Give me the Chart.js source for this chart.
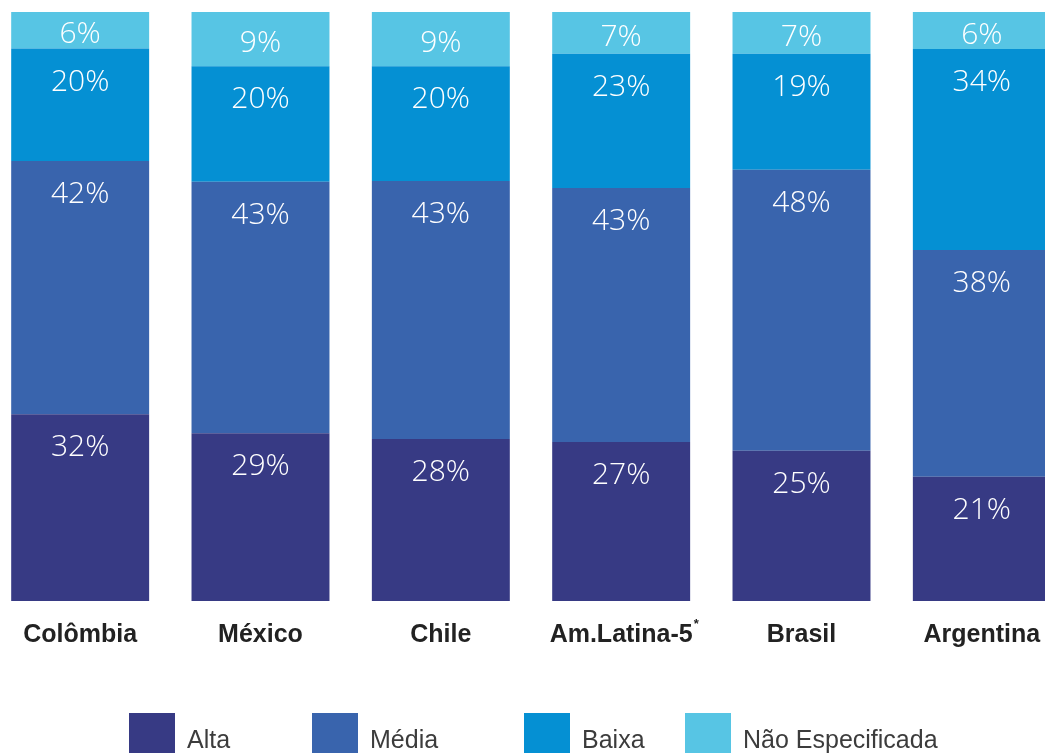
<!DOCTYPE html>
<html><head><meta charset="utf-8">
<script src="https://cdn.jsdelivr.net/npm/chart.js@4/dist/chart.umd.min.js"></script>
<style>
html,body{margin:0;padding:0;background:#fff;overflow:hidden;width:1045px;height:753px;}
#wrap{position:absolute;left:-10px;top:0;width:1082px;height:753px;}
#legend{position:absolute;left:0;top:0;width:1045px;height:753px;pointer-events:none;}
.box{position:absolute;top:713px;width:46px;height:40px;}
.txt{position:absolute;top:727px;font:25px "Liberation Sans",Arial,sans-serif;line-height:25px;color:#3c3c3c;white-space:nowrap;}
</style></head>
<body>
<div id="wrap"><canvas id="c"></canvas></div>
<div id="legend"></div>
<script>
const categories = ['Colômbia','México','Chile','Am.Latina-5','Brasil','Argentina'];
const seriesNames = ['Alta','Média','Baixa','Não Especificada'];
const alta   = [31.7, 28.5, 27.5, 27.0, 25.5, 21.1];
const media  = [43.0, 42.7, 43.8, 43.1, 47.7, 38.5];
const baixa  = [19.1, 19.6, 19.5, 22.8, 19.7, 34.1];
const naoEsp = [ 6.2,  9.2,  9.2,  7.1,  7.1,  6.3];
const altaLabels   = ['32%','29%','28%','27%','25%','21%'];
const mediaLabels  = ['42%','43%','43%','43%','48%','38%'];
const baixaLabels  = ['20%','20%','20%','23%','19%','34%'];
const naoEspLabels = ['6%','9%','9%','7%','7%','6%'];

const colors = ['#373a84','#3964ad','#0590d3','#57c5e4'];
const values = [alta, media, baixa, naoEsp];
const texts = [altaLabels, mediaLabels, baixaLabels, naoEspLabels];
const legendX = [129, 312, 524, 685];

const segLabels = {
  id: 'segLabels',
  afterDatasetsDraw(chart) {
    const ctx = chart.ctx;
    ctx.save();
    ctx.fillStyle = '#ffffff';
    ctx.font = '300 30px "Open Sans", Roboto, sans-serif';
    ctx.textAlign = 'center';
    ctx.textBaseline = 'alphabetic';
    chart.data.datasets.forEach((ds, di) => {
      const meta = chart.getDatasetMeta(di);
      meta.data.forEach((bar, i) => {
        const top = Math.min(bar.y, bar.base);
        const h = Math.abs(bar.base - bar.y);
        const yb = top + Math.min(42, h / 2 + 13);
        ctx.fillText(ds.segText[i], bar.x, yb);
      });
    });
    ctx.restore();
  },
  afterDraw(chart) {
    const ctx = chart.ctx;
    const xs = chart.scales.x;
    const idx = categories.indexOf('Am.Latina-5');
    ctx.save();
    ctx.font = 'bold 25px "Liberation Sans", Arial, sans-serif';
    const w = ctx.measureText(categories[idx]).width;
    const cx = xs.getPixelForValue(idx);
    ctx.font = 'bold 13px "Liberation Sans", Arial, sans-serif';
    ctx.fillStyle = '#222';
    ctx.textAlign = 'left';
    ctx.textBaseline = 'top';
    ctx.fillText('*', cx + w / 2 + 1, 618);
    ctx.restore();
  }
};

const chart = new Chart(document.getElementById('c'), {
  type: 'bar',
  data: {
    labels: categories,
    datasets: seriesNames.map((n, i) => ({
      label: n,
      data: values[i],
      segText: texts[i],
      backgroundColor: colors[i],
      borderWidth: 0,
      barPercentage: 0.765,
      categoryPercentage: 1
    }))
  },
  options: {
    responsive: true,
    maintainAspectRatio: false,
    animation: false,
    layout: { padding: { top: 12, bottom: 84, left: 0, right: 0 } },
    plugins: { legend: { display: false }, tooltip: { enabled: false } },
    scales: {
      x: {
        stacked: true,
        offset: true,
        grid: { display: false, drawTicks: false },
        border: { display: false },
        ticks: {
          color: '#222',
          font: { family: '"Liberation Sans", Arial, sans-serif', weight: 'bold', size: 25 },
          padding: 19,
          maxRotation: 0,
          autoSkip: false
        }
      },
      y: { stacked: true, min: 0, max: 100, display: false }
    }
  },
  plugins: [segLabels]
});

const lg = document.getElementById('legend');
chart.data.datasets.forEach((ds, i) => {
  const b = document.createElement('div');
  b.className = 'box';
  b.style.left = legendX[i] + 'px';
  b.style.background = ds.backgroundColor;
  lg.appendChild(b);
  const t = document.createElement('div');
  t.className = 'txt';
  t.style.left = (legendX[i] + 58) + 'px';
  t.textContent = ds.label;
  lg.appendChild(t);
});
</script>
</body></html>
